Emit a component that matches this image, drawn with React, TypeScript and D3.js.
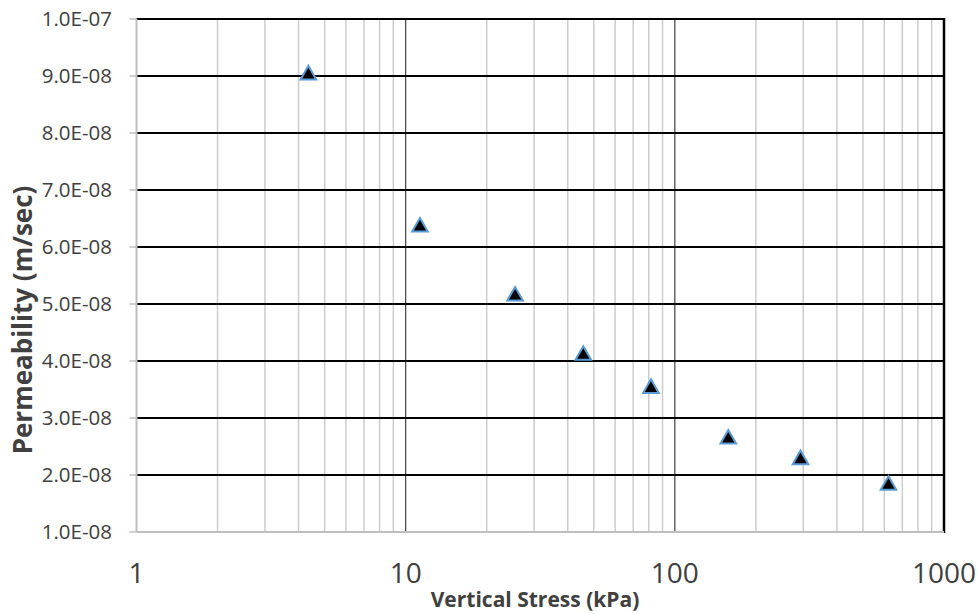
import React from "react";
import * as d3 from "d3";

const stress = [4.35, 11.3, 25.5, 45.7, 81.5, 158, 293, 622];
const permeability = [9.06e-8, 6.39e-8, 5.18e-8, 4.14e-8, 3.56e-8, 2.67e-8, 2.31e-8, 1.86e-8];
const yTicks = [1e-8, 2e-8, 3e-8, 4e-8, 5e-8, 6e-8, 7e-8, 8e-8, 9e-8, 1e-7];
const xMajor = [1, 10, 100, 1000];

const W = 978, H = 614;
const L = 136.5, R = 944, T = 19, B = 532;

export default function App() {
  const x = d3.scaleLog().domain([1, 1000]).range([L, R]);
  const y = d3.scaleLinear().domain([1e-8, 1e-7]).range([B, T]);
  const minor: number[] = [];
  [1, 10, 100].forEach((d) => {
    for (let k = 2; k <= 9; k++) minor.push(d * k);
  });
  const fmt = (v: number) => {
    const e = Math.floor(Math.log10(v) + 1e-9);
    const m = v / Math.pow(10, e);
    return `${m.toFixed(1)}E-${String(-e).padStart(2, "0")}`;
  };
  const s = 7.8, h = 6.8;
  const triPath = d3.line()([[0, -h], [s, h], [-s, h]]) + "Z";
  const font = "'Open Sans', sans-serif";
  return (
    <svg width={W} height={H} style={{ position: "absolute", left: 0, top: 0 }} fontFamily={font}>
      <rect width={W} height={H} fill="#fff" />
      {minor.map((m) => (
        <line key={"m" + m} x1={x(m)} x2={x(m)} y1={T} y2={B} stroke="#cccccc" strokeWidth={1.5} />
      ))}
      {[10, 100].map((m) => (
        <line key={"M" + m} x1={x(m)} x2={x(m)} y1={T} y2={B} stroke="#404040" strokeWidth={1.2} />
      ))}
      {yTicks.slice(1).map((t) => (
        <line key={"h" + t} x1={L} x2={R} y1={y(t)} y2={y(t)} stroke="#000" strokeWidth={2} />
      ))}
      <line x1={R} x2={R} y1={T - 1} y2={B + 1} stroke="#000" strokeWidth={2.5} />
      <line x1={L} x2={L} y1={T} y2={B} stroke="#bfbfbf" strokeWidth={2} />
      <line x1={L} x2={R} y1={B} y2={B} stroke="#bfbfbf" strokeWidth={2} />
      {yTicks.map((t) => (
        <g key={"yt" + t}>
          <line x1={L - 7} x2={L} y1={y(t)} y2={y(t)} stroke="#bfbfbf" strokeWidth={1.5} />
          <text x={112} y={y(t)} dy="0.35em" textAnchor="end" fontSize={20.5} fill="#404040">
            {fmt(t)}
          </text>
        </g>
      ))}
      {xMajor.map((t) => (
        <text key={"xt" + t} x={x(t)} y={583} textAnchor="middle" fontSize={28} fill="#404040">
          {t}
        </text>
      ))}
      <text x={535} y={607} textAnchor="middle" fontSize={21} fontWeight="bold" fill="#404040">
        Vertical Stress (kPa)
      </text>
      <text
        transform={`translate(32, 320) rotate(-90)`}
        textAnchor="middle"
        fontSize={26}
        fontWeight="bold"
        fill="#404040"
      >
        Permeability (m/sec)
      </text>
      {stress.map((v, i) => (
        <path
          key={"p" + i}
          d={triPath}
          transform={`translate(${x(v)}, ${y(permeability[i])})`}
          fill="#000"
          stroke="#5b9bd5"
          strokeWidth={2}
          strokeLinejoin="miter"
        />
      ))}
    </svg>
  );
}
